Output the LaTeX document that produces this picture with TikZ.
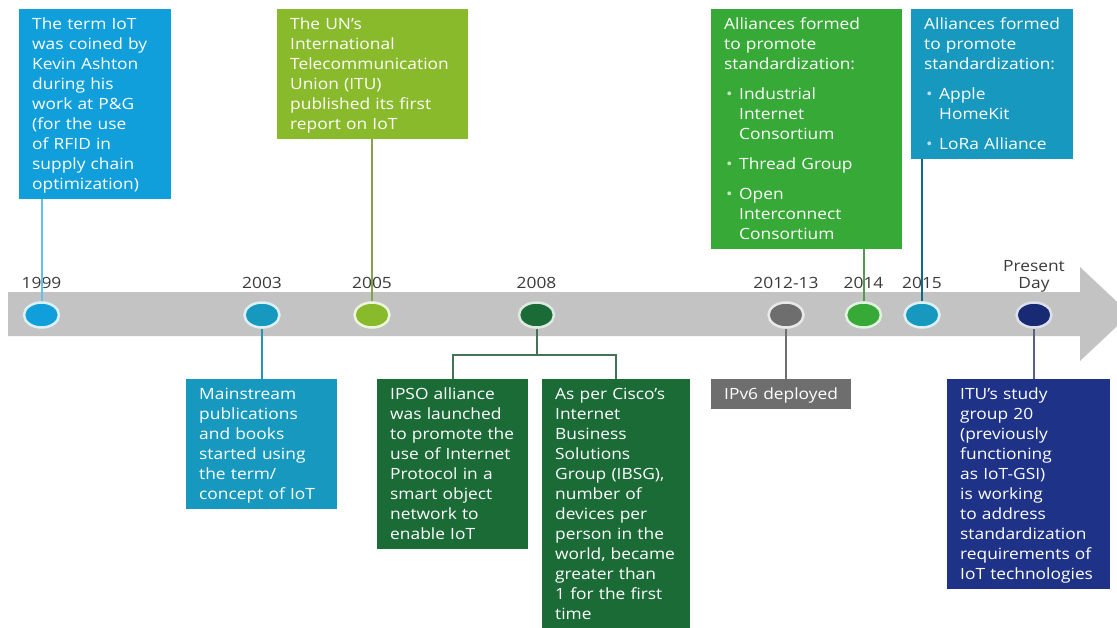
\documentclass[tikz,border=0pt]{standalone}
\usepackage{fontspec}
\setmainfont{Open Sans}[FakeStretch=1.12]
\usepackage{tikz}
\usetikzlibrary{shapes.geometric}

\definecolor{iotblue}{HTML}{119FDC}
\definecolor{iotteal}{HTML}{1798BE}
\definecolor{iotlime}{HTML}{89BA2B}
\definecolor{iotgreen}{HTML}{37A936}
\definecolor{iotdark}{HTML}{1B6B37}
\definecolor{iotgray}{HTML}{6E6E6E}
\definecolor{iotnavy}{HTML}{1E3288}
\definecolor{bandgray}{HTML}{C3C3C3}
\definecolor{yeartext}{HTML}{3A3A3A}

\newcommand{\tlfont}{\fontsize{15.5}{20}\selectfont}
\newcommand{\bulletmark}[1]{\makebox[15pt][l]{\hspace{2pt}\textcolor{#1}{•}}}

\begin{document}
\begin{tikzpicture}[
  x=1pt, y=-1pt,
  infobox/.style={anchor=north west, inner sep=0pt, align=left, text=white, font=\tlfont,
    execute at begin node={\parindent=0pt\leftskip=13pt\rule{0pt}{20pt}},
    execute at end node={\rule[-10pt]{0pt}{10pt}}},
  yeardot/.style={ellipse, minimum width=35pt, minimum height=25pt, inner sep=0pt,
    fill=#1, draw=#1!15, line width=2.5pt},
  yearlabel/.style={font=\tlfont, text=yeartext, inner sep=0pt, anchor=base},
  conn/.style={line width=2pt},
]
  \clip (0,0) rectangle (1117,627);

  % Timeline arrow
  \fill[bandgray] (8,292) -- (1080,292) -- (1080,267) -- (1130,314)
    -- (1080,361) -- (1080,336) -- (8,336) -- cycle;

  % Year markers
  \node[yeardot=iotblue]  (d1999) at (41.5,315) {};
  \node[yeardot=iotteal]  (d2003) at (262,315) {};
  \node[yeardot=iotlime]  (d2005) at (372,315) {};
  \node[yeardot=iotdark]  (d2008) at (536.5,315) {};
  \node[yeardot=iotgray]  (d2012) at (786,315) {};
  \node[yeardot=iotgreen] (d2014) at (863.5,315) {};
  \node[yeardot=iotteal]  (d2015) at (922,315) {};
  \node[yeardot=iotnavy!85!black] (dnow) at (1034,315) {};

  \node[yearlabel] (l1999) at (41.5,288) {1999};
  \node[yearlabel] (l2003) at (262,288) {2003};
  \node[yearlabel] (l2005) at (372,288) {2005};
  \node[yearlabel] (l2008) at (536.5,288) {2008};
  \node[yearlabel] (l2012) at (786,288) {2012-13};
  \node[yearlabel] (l2014) at (863.5,288) {2014};
  \node[yearlabel] (l2015) at (922,288) {2015};
  \node[yearlabel, anchor=south, align=center, font=\fontsize{15.5}{17}\selectfont]
    (lnow) at (1034,292) {Present\\Day};

  % Events above the line
  \node[infobox, fill=iotblue, text width=152pt] (b1999) at (19,9)
    {The term IoT\\was coined by\\Kevin Ashton\\during his\\work at P\&G\\(for the use\\of RFID in\\supply chain\\optimization)};
  \node[infobox, fill=iotlime, text width=191pt] (b2005) at (277,9)
    {The UN’s\\International\\Telecommunication\\Union (ITU)\\published its first\\report on IoT};
  \node[infobox, fill=iotgreen, text width=191pt] (b2014) at (711,9)
    {Alliances formed\\to promote\\standardization:\\[10pt]%
     \bulletmark{white!70!iotgreen}Industrial\\\hspace*{15pt}Internet\\\hspace*{15pt}Consortium\\[10pt]%
     \bulletmark{white!70!iotgreen}Thread Group\\[10pt]%
     \bulletmark{white!70!iotgreen}Open\\\hspace*{15pt}Interconnect\\\hspace*{15pt}Consortium};
  \node[infobox, fill=iotteal, text width=162pt] (b2015) at (911,9)
    {Alliances formed\\to promote\\standardization:\\[10pt]%
     \bulletmark{white!70!iotteal}Apple\\\hspace*{15pt}HomeKit\\[10pt]%
     \bulletmark{white!70!iotteal}LoRa Alliance};

  % Events below the line
  \node[infobox, fill=iotteal, text width=151pt] (b2003) at (186,379)
    {Mainstream\\publications\\and books\\started using\\the term/\\concept of IoT};
  \node[infobox, fill=iotdark, text width=151pt] (bipso) at (377,379)
    {IPSO alliance\\was launched\\to promote the\\use of Internet\\Protocol in a\\smart object\\network to\\enable IoT};
  \node[infobox, fill=iotdark, text width=148pt] (bcisco) at (542,379)
    {As per Cisco’s\\Internet\\Business\\Solutions\\Group (IBSG),\\number of\\devices per\\person in the\\world, became\\greater than\\1 for the first\\time};
  \node[infobox, fill=iotgray, text width=140pt] (bipv6) at (711,379)
    {IPv6 deployed};
  \node[infobox, fill=iotnavy, text width=163pt] (bitu) at (947,379)
    {ITU’s study\\group 20\\(previously\\functioning\\as IoT-GSI)\\is working\\to address\\standardization\\requirements of\\IoT technologies};

  % Connectors
  \draw[conn, draw=iotblue!65] (b1999.south -| d1999) -- (d1999.north);
  \draw[conn, draw=iotlime!60!gray] (b2005.south -| d2005) -- (d2005.north);
  \draw[conn, draw=iotgreen!55!gray] (b2014.south -| d2014) -- (d2014.north);
  \draw[conn, draw=iotteal!70!black] (b2015.south -| d2015) -- (d2015.north);
  \draw[conn, draw=iotteal!85!gray] (d2003.south) -- (d2003 |- b2003.north);
  \coordinate (fork) at (536.5,355);
  \draw[conn, draw=iotdark!60!gray] (d2008.south) -- (fork);
  \draw[conn, draw=iotdark!60!gray] (bipso.north) |- (fork) -| (bcisco.north);
  \draw[conn, draw=iotgray] (d2012.south) -- (d2012 |- bipv6.north);
  \draw[conn, draw=iotnavy!40!gray] (dnow.south) -- (dnow |- bitu.north);
\end{tikzpicture}
\end{document}
